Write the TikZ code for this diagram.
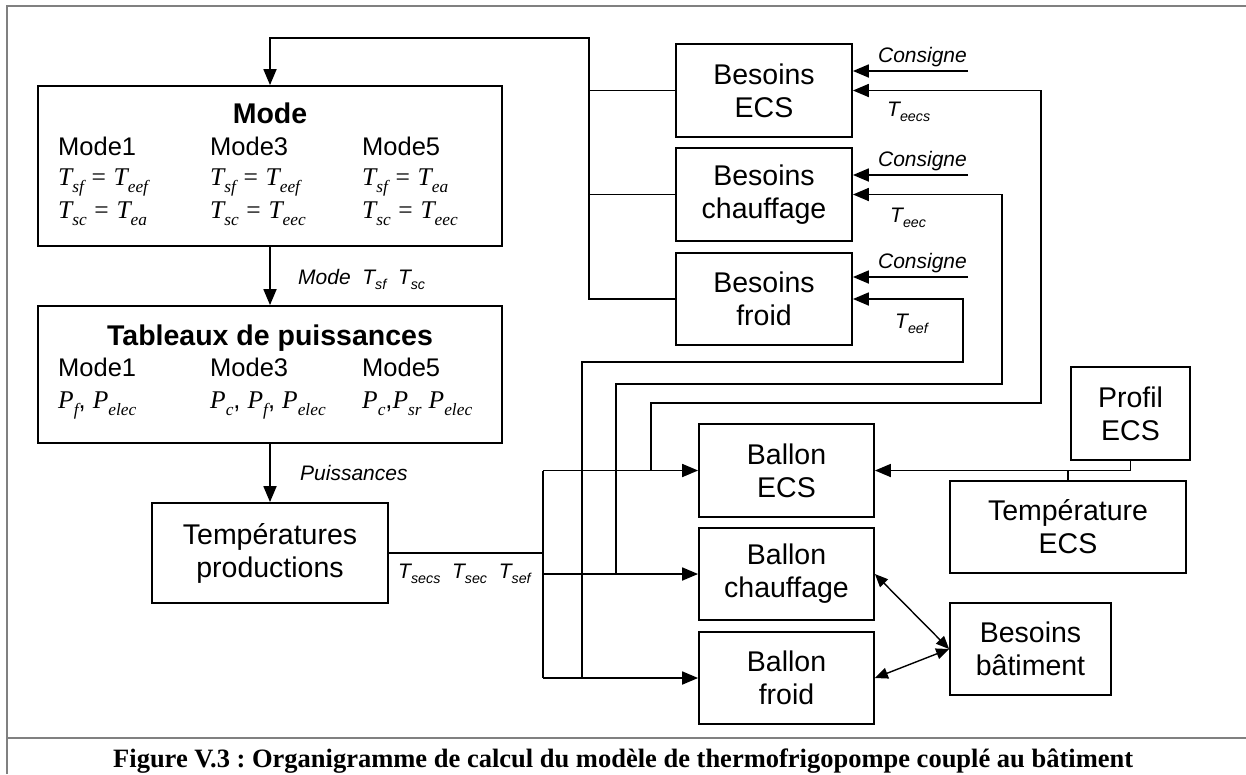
\documentclass[tikz,border=0pt]{standalone}
\usepackage{fontspec}
\setmainfont{Liberation Sans}
\newfontfamily\tmsfont{Liberation Serif}
\usetikzlibrary{arrows.meta}
\frenchspacing
\newcommand\lsub[1]{\raisebox{-0.28em}{\scalebox{0.68}{#1}}}
\newcommand\meq[2]{{\tmsfont\itshape T\lsub{#1}\hspace{0.3em}{\upshape=}\hspace{0.3em}T\lsub{#2}}}
\newcommand\mP[1]{{\tmsfont\itshape P\lsub{#1}}}
\newcommand\sT[1]{{\itshape T\lsub{#1}}}
\begin{document}
\begin{tikzpicture}[x=1pt,y=-1pt,
  box/.style={draw, line width=1.8pt, inner sep=0pt, align=center, font=\fontsize{28.5}{33}\selectfont},
  con/.style={line width=1.8pt},
  arr/.style={con, -{Triangle[length=16pt,width=13pt]}},
  darr/.style={line width=1.4pt, {Triangle[length=13pt,width=11pt]}-{Triangle[length=13pt,width=11pt]}},
  lab/.style={inner sep=0pt, font=\fontsize{21}{24}\selectfont\itshape},
  mtxt/.style={inner sep=0pt, anchor=base west, font=\fontsize{25.5}{30}\selectfont},
  mmath/.style={inner sep=0pt, anchor=base west, font=\fontsize{25.5}{30}\selectfont},
  ttl/.style={inner sep=0pt, anchor=base, font=\fontsize{28.5}{34}\selectfont\bfseries},
  frame/.style={line width=2.5pt, black!50}]
\useasboundingbox (0,0) rectangle (1246,774);
% frame
\draw[frame] (7,774) -- (7,6) -- (1246,6);
\draw[frame] (7,738) -- (1246,738);

% main boxes
\node[box, minimum width=464pt, minimum height=160pt] (mode) at (270,166) {};
\node[ttl] (modeT) at (270,123) {Mode};
\node[mtxt] (m1) at (58,155) {Mode1};
\node[mtxt] (m3) at (210,155) {Mode3};
\node[mtxt] (m5) at (362,155) {Mode5};
\node[mmath] (m1a) at (58,185) {\meq{sf}{eef}};
\node[mmath] (m3a) at (210,185) {\meq{sf}{eef}};
\node[mmath] (m5a) at (362,185) {\meq{sf}{ea}};
\node[mmath] (m1b) at (58,218) {\meq{sc}{ea}};
\node[mmath] (m3b) at (210,218) {\meq{sc}{eec}};
\node[mmath] (m5b) at (362,218) {\meq{sc}{eec}};

\node[box, minimum width=464pt, minimum height=137pt] (tab) at (270,374.5) {};
\node[ttl] (tabT) at (270,345) {Tableaux de puissances};
\node[mtxt] (t1) at (58,376) {Mode1};
\node[mtxt] (t3) at (210,376) {Mode3};
\node[mtxt] (t5) at (362,376) {Mode5};
\node[mmath] (t1a) at (58,408) {\mP{f}, \mP{elec}};
\node[mmath] (t3a) at (210,408) {\mP{c}, \mP{f}, \mP{elec}};
\node[mmath] (t5a) at (362,408) {\mP{c},\mP{sr} \mP{elec}};

\node[box, minimum width=236pt, minimum height=100pt] (temp) at (270,553) {Températures\\productions};

\node[box, minimum width=176pt, minimum height=93pt] (bECS) at (764,90.5) {Besoins\\ECS};
\node[box, minimum width=176pt, minimum height=93pt] (bCh) at (764,194.5) {Besoins\\chauffage};
\node[box, minimum width=176pt, minimum height=92pt] (bFr) at (764,299) {Besoins\\froid};

\node[box, minimum width=175pt, minimum height=93pt] (balECS) at (786.5,470.5) {Ballon\\ECS};
\node[box, minimum width=175pt, minimum height=92pt] (balCh) at (786.5,574) {Ballon\\chauffage};
\node[box, minimum width=175pt, minimum height=92pt] (balFr) at (786.5,678) {Ballon\\froid};

\node[box, minimum width=119pt, minimum height=93pt] (profil) at (1130.5,413.5) {Profil\\ECS};
\node[box, minimum width=236pt, minimum height=92pt] (tECS) at (1068,527) {Température\\ECS};
\node[box, minimum width=161pt, minimum height=92pt] (bBat) at (1030.5,649) {Besoins\\bâtiment};

% vertical flow on the left
\draw[arr] (mode.south) -- (tab.north);
\draw[arr] (tab.south) -- (temp.north);
\node[lab, anchor=base west] (lMode) at (298,284) {Mode\ \ \sT{sf}\ \ \sT{sc}};
\node[lab, anchor=base west] (lPuis) at (300,480) {Puissances};

% feedback from Besoins to Mode
\coordinate (top) at (589,38);
\draw[arr] (bFr.west) -| (top) -| (mode.north);
\draw[con] (bECS.west) -- (bECS.west -| top);
\draw[con] (bCh.west) -- (bCh.west -| top);

% Consigne inputs
\coordinate (c1) at (968,71);
\coordinate (c2) at (968,175);
\coordinate (c3) at (968,277);
\draw[arr] (c1) -- (c1 -| bECS.east);
\draw[arr] (c2) -- (c2 -| bCh.east);
\draw[arr] (c3) -- (c3 -| bFr.east);
\node[lab, anchor=base east] (lc1) at (967,62.5) {Consigne};
\node[lab, anchor=base east] (lc2) at (967,166.5) {Consigne};
\node[lab, anchor=base east] (lc3) at (967,268.5) {Consigne};

% temperatures production bus
\coordinate (bus) at (543,553);
\coordinate (busE) at (543,470.5);
\coordinate (busF) at (543,678);
\draw[con] (temp.east) -- (bus);
\draw[con] (busE) -- (busF);
\draw[arr] (busE) -- (balECS.west);
\draw[arr] (busE |- balCh.west) -- (balCh.west);
\draw[arr] (busF) -- (balFr.west);
\node[lab, anchor=base west] (lTs) at (398,578) {\sT{secs}\ \ \sT{sec}\ \ \sT{sef}};

% loops back to Besoins
\coordinate (jE) at (651,470.5);
\coordinate (rE) at (1041,403);
\coordinate (jC) at (616,574);
\coordinate (rC) at (1002,384);
\coordinate (jF) at (582,678);
\coordinate (rF) at (963,362);
\draw[arr] (jE) |- (rE) |- (bECS.east);
\draw[arr] (jC) |- (rC) |- (bCh.east);
\draw[arr] (jF) |- (rF) |- (bFr.east);
\node[lab, anchor=base west] (lE) at (887,116) {\sT{eecs}};
\node[lab, anchor=base west] (lC) at (890,222) {\sT{eec}};
\node[lab, anchor=base west] (lF) at (895,328) {\sT{eef}};

% Profil / Temperature ECS to Ballon ECS
\coordinate (pj) at (1130.5,470.5);
\draw[arr] (profil.south) -- (pj) -- (pj -| balECS.east);
\draw[con] (tECS.north) -- (tECS.north |- pj);

% Besoins batiment
\draw[darr] (balCh.east) -- (bBat.west);
\draw[darr] (balFr.east) -- (bBat.west);

% caption
\node[inner sep=0pt, anchor=base west, font=\tmsfont\bfseries\fontsize{26.5}{30}\selectfont] (cap) at (113,767) {Figure V.3 : Organigramme de calcul du modèle de thermofrigopompe couplé au bâtiment};
\end{tikzpicture}
\end{document}
